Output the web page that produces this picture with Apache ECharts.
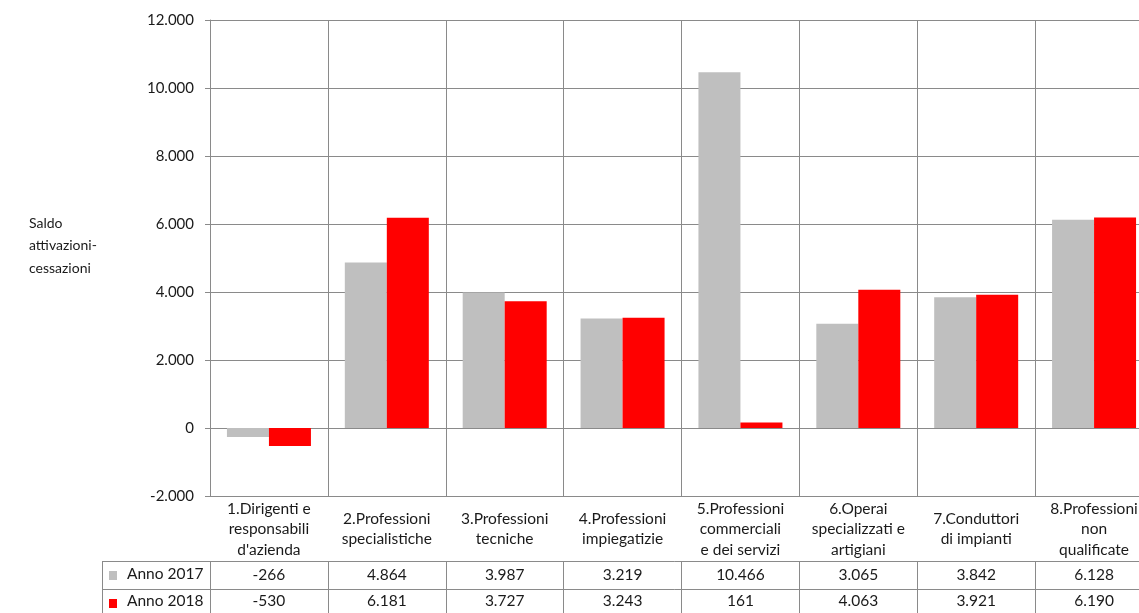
<!DOCTYPE html>
<html>
<head>
<meta charset="utf-8">
<script src="https://cdn.jsdelivr.net/npm/echarts@6/dist/echarts.min.js"></script>
<style>
html,body{margin:0;padding:0;background:#fff;}
#chart{width:1139px;height:613px;}
</style>
</head>
<body>
<div id="chart"></div>
<script>
const categories = [
  "1.Dirigenti e\nresponsabili\nd'azienda",
  "2.Professioni\nspecialistiche",
  "3.Professioni\ntecniche",
  "4.Professioni\nimpiegatizie",
  "5.Professioni\ncommerciali\ne dei servizi",
  "6.Operai\nspecializzati e\nartigiani",
  "7.Conduttori\ndi impianti",
  "8.Professioni\nnon\nqualificate"
];
const seriesNames = ["Anno 2017", "Anno 2018"];
const values2017 = [-266, 4864, 3987, 3219, 10466, 3065, 3842, 6128];
const values2018 = [-530, 6181, 3727, 3243, 161, 4063, 3921, 6190];
const yMin = -2000, yMax = 12000, yStep = 2000;
const yAxisTitle = "Saldo\nattivazioni-\ncessazioni";

function fmt(v){
  const s = Math.abs(v).toString().replace(/\B(?=(\d{3})+(?!\d))/g, ".");
  return (v < 0 ? "-" : "") + s;
}

const FONT = "Lato";
const LINE = "#8a8a8a";
const TXT = "#1a1a1a";

const chart = echarts.init(document.getElementById('chart'), null, {renderer:'canvas'});
const option = {
  animation: false,
  backgroundColor: '#fff',
  textStyle: {fontFamily: FONT},
  grid: {left: 210, top: 20, bottom: 117, width: 943, outerBoundsMode: 'none', containLabel: false},
  xAxis: [
    {
      type: 'category', data: categories, position: 'bottom',
      axisLine: {show: true, lineStyle: {color: LINE}},
      axisTick: {show: true, length: 65, lineStyle: {color: LINE}},
      splitLine: {show: true, lineStyle: {color: LINE}},
      axisLabel: {interval: 0, margin: 33, verticalAlign: 'middle', lineHeight: 20.5,
                  fontSize: 15.5, color: TXT, fontFamily: FONT}
    },
    {
      type: 'category', data: values2017.map(fmt), position: 'bottom', offset: 65,
      axisLine: {show: true, lineStyle: {color: LINE}},
      axisTick: {show: true, length: 28, lineStyle: {color: LINE}},
      splitLine: {show: false},
      axisLabel: {interval: 0, margin: 14, verticalAlign: 'middle', fontSize: 15.5, color: TXT, fontFamily: FONT}
    },
    {
      type: 'category', data: values2018.map(fmt), position: 'bottom', offset: 93,
      axisLine: {show: true, lineStyle: {color: LINE}},
      axisTick: {show: true, length: 30, lineStyle: {color: LINE}},
      splitLine: {show: false},
      axisLabel: {interval: 0, margin: 12, verticalAlign: 'middle', fontSize: 15.5, color: TXT, fontFamily: FONT}
    }
  ],
  yAxis: {
    type: 'value', min: yMin, max: yMax, interval: yStep,
    axisLine: {show: true, lineStyle: {color: LINE}},
    axisTick: {show: true, length: 5, lineStyle: {color: LINE}},
    splitLine: {show: true, lineStyle: {color: LINE}},
    axisLabel: {formatter: fmt, margin: 16, fontSize: 15, color: TXT, fontFamily: FONT}
  },
  series: [
    {name: seriesNames[0], type: 'bar', data: values2017, barWidth: 42, barGap: '0%',
     itemStyle: {color: '#bfbfbf'}},
    {name: seriesNames[1], type: 'bar', data: values2018, barWidth: 42, barGap: '0%',
     itemStyle: {color: '#ff0000'}}
  ],
  graphic: [
    {type: 'text', left: 29, top: 212, style: {text: yAxisTitle, align: 'center', lineHeight: 22.5,
      fontSize: 14, fill: TXT, fontFamily: FONT, x: 34}},
    {type: 'line', shape: {x1: 102, y1: 561.5, x2: 210, y2: 561.5}, style: {stroke: LINE, lineWidth: 1}},
    {type: 'line', shape: {x1: 102, y1: 589.5, x2: 210, y2: 589.5}, style: {stroke: LINE, lineWidth: 1}},
    {type: 'line', shape: {x1: 102.5, y1: 561, x2: 102.5, y2: 613}, style: {stroke: LINE, lineWidth: 1}},
    {type: 'rect', shape: {x: 109, y: 571, width: 8, height: 9}, style: {fill: '#bfbfbf'}},
    {type: 'rect', shape: {x: 109, y: 599, width: 8, height: 9}, style: {fill: '#ff0000'}},
    {type: 'text', left: 127, top: 566, style: {text: seriesNames[0], fontSize: 15.5, fill: TXT, fontFamily: FONT}},
    {type: 'text', left: 127, top: 593, style: {text: seriesNames[1], fontSize: 15.5, fill: TXT, fontFamily: FONT}}
  ]
};
chart.setOption(option);
</script>
</body>
</html>
